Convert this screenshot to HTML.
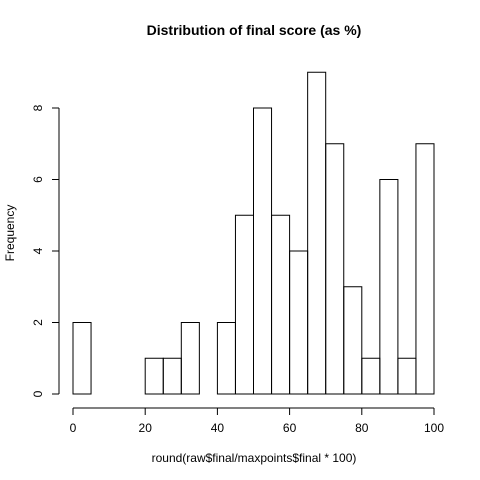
<!DOCTYPE html>
<html><head><meta charset="utf-8"><style>body{margin:0;background:#fff}svg{display:block;font-family:"Liberation Sans",sans-serif}</style></head>
<body>
<svg id="c" width="480" height="480">
<text x="254" y="35" text-anchor="middle" font-size="14" font-weight="bold">Distribution of final score (as %)</text>
<text x="254" y="462" text-anchor="middle" font-size="12">round(raw$final/maxpoints$final * 100)</text>
<text transform="translate(14,233) rotate(-90)" text-anchor="middle" font-size="12">Frequency</text>
</svg>
<script>
const binStarts=[0,5,10,15,20,25,30,35,40,45,50,55,60,65,70,75,80,85,90,95];
const counts=[2,0,0,0,1,1,2,0,2,5,8,5,4,9,7,3,1,6,1,7];
const xTicks=[0,20,40,60,80,100];
const yTicks=[0,2,4,6,8];
const binWidth=5;
const svg=document.getElementById('c');
const NS='http://www.w3.org/2000/svg';
const X=v=>73+v*(434-73)/100;
const Y=v=>394-v*(394-108)/8;
function el(t,a){const e=document.createElementNS(NS,t);for(const k in a)e.setAttribute(k,a[k]);svg.appendChild(e);return e;}
binStarts.forEach((b,i)=>{if(counts[i]<=0)return;
 const r=el('rect',{x:X(b),y:Y(counts[i]),width:X(b+binWidth)-X(b),height:Y(0)-Y(counts[i]),fill:'none',stroke:'#000','stroke-width':1});
 
 });
let ax=el('line',{x1:X(xTicks[0]),x2:X(xTicks[xTicks.length-1]),y1:408,y2:408,stroke:'#000'});


xTicks.forEach(t=>{el('line',{x1:X(t),x2:X(t),y1:408,y2:415,stroke:'#000'});
 const tx=el('text',{x:X(t),y:432,'text-anchor':'middle','font-size':12});tx.textContent=t;
 
 });
let ay=el('line',{x1:59,x2:59,y1:Y(yTicks[0]),y2:Y(yTicks[yTicks.length-1]),stroke:'#000'});


yTicks.forEach(t=>{el('line',{x1:52,x2:59,y1:Y(t),y2:Y(t),stroke:'#000'});
 const tx=el('text',{transform:`translate(42,${Y(t)}) rotate(-90)`,'text-anchor':'middle','font-size':12});tx.textContent=t;
 
 });
</script>
</body></html>
